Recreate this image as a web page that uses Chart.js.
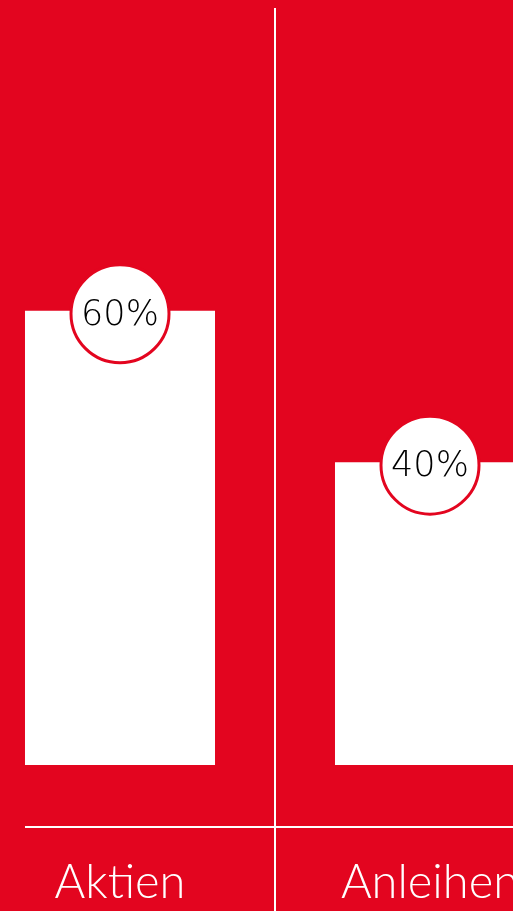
<!DOCTYPE html>
<html>
<head>
<meta charset="utf-8">
<script src="https://cdn.jsdelivr.net/npm/chart.js@4/dist/chart.umd.min.js"></script>
<style>
  html, body { margin: 0; padding: 0; background: #E3051F; overflow: hidden; }
  #wrap { position: absolute; left: -35px; top: 0; width: 620px; height: 911px; }
</style>
</head>
<body>
<div id="wrap"><canvas id="miGrafica"></canvas></div>
<script>
var categorias = ["Aktien", "Anleihen"]
var valores = [60, 40]
var rojo = "#E3051F"

// circulo blanco con el porcentaje encima de cada barra
var etiquetas = {
    id: 'etiquetas',
    afterDatasetsDraw: function(chart) {
        var ctx = chart.ctx
        var meta = chart.getDatasetMeta(0)
        ctx.save()
        meta.data.forEach(function(bar, i) {
            ctx.beginPath()
            ctx.arc(bar.x, bar.y + 3, 49, 0, Math.PI * 2)
            ctx.fillStyle = "#ffffff"
            ctx.fill()
            ctx.lineWidth = 3
            ctx.strokeStyle = rojo
            ctx.stroke()
            ctx.fillStyle = "#000000"
            ctx.font = "200 35px 'DejaVu Sans'"
            ctx.textAlign = "center"
            ctx.textBaseline = "middle"
            ctx.fillText(valores[i] + "%", bar.x, bar.y + 5)
        })
        ctx.restore()
    },
    afterDraw: function(chart) {
        // linea base desde el borde de la primera barra
        var ctx = chart.ctx
        var bar = chart.getDatasetMeta(0).data[0]
        var y = chart.chartArea.bottom
        ctx.save()
        ctx.beginPath()
        ctx.moveTo(bar.x - bar.width / 2, y)
        ctx.lineTo(chart.chartArea.right, y)
        ctx.lineWidth = 2
        ctx.strokeStyle = "#ffffff"
        ctx.stroke()
        ctx.restore()
    }
}

new Chart("miGrafica", {
    type: "bar",
    data: {
        labels: categorias,
        datasets: [{
            data: valores,
            backgroundColor: "#ffffff",
            borderWidth: 0,
            barPercentage: 0.613,
            categoryPercentage: 1
        }]
    },
    options: {
        responsive: true,
        maintainAspectRatio: false,
        animation: false,
        layout: { padding: { top: 8, left: 0, right: 0, bottom: 0 } },
        plugins: {
            legend: { display: false },
            tooltip: { enabled: false }
        },
        scales: {
            x: {
                grid: {
                    offset: true,
                    color: "#ffffff",
                    lineWidth: 2,
                    tickLength: 84
                },
                border: { display: false },
                ticks: {
                    color: "#ffffff",
                    padding: -56,
                    font: { family: "Lato", size: 47, weight: 300 }
                },
                afterFit: function(s) { s.height = 84 }
            },
            y: {
                display: false,
                min: -8.2,
                max: 100
            }
        }
    },
    plugins: [etiquetas]
})
</script>
</body>
</html>
